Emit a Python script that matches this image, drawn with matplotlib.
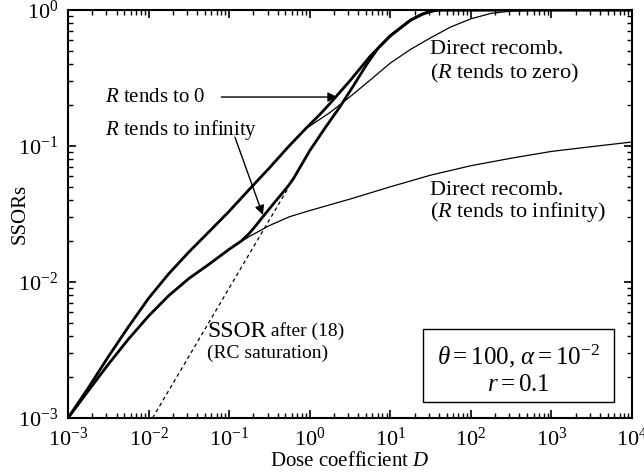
import matplotlib
matplotlib.use("Agg")
import numpy as np
from matplotlib import pyplot as plt
from matplotlib.patches import Rectangle

plt.rcParams["font.family"] = ["Liberation Serif", "DejaVu Serif"]
plt.rcParams["mathtext.fontset"] = "custom"
plt.rcParams["mathtext.rm"] = "Liberation Serif"
plt.rcParams["mathtext.it"] = "Liberation Serif:italic"
plt.rcParams["mathtext.bf"] = "Liberation Serif:bold"

# direct recombination, R -> 0 (thin)
d_zero = [1e-3, 1.78e-3, 3.16e-3, 5.62e-3, 0.01, 0.0178, 0.0316, 0.0562, 0.1, 0.178,
          0.316, 0.537, 0.9, 1.0, 1.78, 3.16, 5.62, 10, 17.8, 31.6, 56.2, 100, 178,
          316, 562, 1e3, 1e4]
s_zero = [1e-3, 1.66e-3, 2.82e-3, 4.68e-3, 7.59e-3, 0.0115, 0.0166, 0.0234, 0.0331, 0.048,
          0.069, 0.098, 0.135, 0.140, 0.176, 0.230, 0.305, 0.407, 0.513, 0.624, 0.750, 0.861,
          0.944, 0.982, 0.995, 1.0, 1.0]

# direct recombination, R -> infinity (thin)
d_inf = [1e-3, 1.78e-3, 3.16e-3, 5.62e-3, 0.01, 0.0178, 0.0316, 0.0562, 0.1, 0.178,
         0.316, 0.562, 1.0, 3.16, 10, 31.6, 100, 316, 1e3, 3162, 1e4]
s_inf = [1e-3, 1.58e-3, 2.48e-3, 3.80e-3, 5.62e-3, 7.94e-3, 0.0106, 0.0135, 0.0174, 0.0216,
         0.0260, 0.0302, 0.0335, 0.0407, 0.0501, 0.0610, 0.0716, 0.0813, 0.0912, 0.0989, 0.107]

# full model, R -> 0 (thick)
d_a = [1e-3, 1.78e-3, 3.16e-3, 5.62e-3, 0.01, 0.0178, 0.0316, 0.0562, 0.1, 0.178,
       0.316, 0.537, 0.9, 1.33, 1.78, 3.16, 5.62, 10, 17.8, 25.1, 31.6, 39.8, 1e4]
s_a = [1e-3, 1.66e-3, 2.82e-3, 4.68e-3, 7.59e-3, 0.0115, 0.0166, 0.0234, 0.0331, 0.048,
       0.069, 0.098, 0.135, 0.170, 0.205, 0.302, 0.457, 0.646, 0.841, 0.933, 0.977, 1.0, 1.0]

# full model, R -> infinity (thick)
d_b = [1e-3, 1.78e-3, 3.16e-3, 5.62e-3, 0.01, 0.0178, 0.0316, 0.0562, 0.1, 0.141,
       0.178, 0.224, 0.26, 0.355, 0.45, 0.55, 0.631, 0.794, 1.0, 1.58, 2.37, 3.55, 5.1, 7.08,
       10, 17.8, 25.1, 31.6, 39.8, 1e4]
s_b = [1e-3, 1.58e-3, 2.48e-3, 3.80e-3, 5.62e-3, 7.94e-3, 0.0106, 0.0135, 0.0174, 0.0200,
       0.0228, 0.0268, 0.0300, 0.0376, 0.0445, 0.0515, 0.0578, 0.0730, 0.0923, 0.138, 0.194,
       0.282, 0.398, 0.525, 0.646, 0.841, 0.933, 0.977, 1.0, 1.0]

# SSOR after (18), RC saturation (dashed)
d_rc = [0.0112, 0.55]
s_rc = [1e-3, 0.05]

fig = plt.figure(figsize=(6.44, 4.75), dpi=100)
ax = fig.add_axes([0.1056, 0.12, 0.8758, 0.859])

ax.plot(d_zero, s_zero, color="black", lw=0.9)
ax.plot(d_inf, s_inf, color="black", lw=0.9)
ax.plot(d_rc, s_rc, color="black", lw=0.9, ls=(0, (3, 2.5)))
ax.plot(d_a, s_a, color="black", lw=2.0, solid_joinstyle="round")
ax.plot(d_b, s_b, color="black", lw=2.0, solid_joinstyle="round")

ax.set_xscale("log")
ax.set_yscale("log")
ax.set_xlim(1e-3, 1e4)
ax.set_ylim(1e-3, 1e0)

for side in ax.spines.values():
    side.set_linewidth(1.5)
ax.tick_params(which="both", direction="in", top=True, right=True, labelsize=16)
ax.tick_params(which="major", length=6, width=1.2)
ax.tick_params(which="minor", length=3.5, width=1.0)
ax.tick_params(axis="x", which="major", pad=7)
ax.tick_params(axis="y", which="major", pad=7)
ax.xaxis.set_major_locator(matplotlib.ticker.LogLocator(base=10, numticks=20))
ax.xaxis.set_minor_locator(matplotlib.ticker.LogLocator(base=10, subs=np.arange(2, 10), numticks=20))

ax.set_xlabel("Dose coefficient $D$", fontsize=15, labelpad=1)
ax.set_ylabel("SSORs", fontsize=15)
ax.yaxis.set_label_coords(-0.068, 0.5)

ax.text(2.9e-3, 0.229, "$R$ tends to 0", fontsize=15, va="center")
ax.annotate("", xy=(2.2, 0.229), xytext=(0.08, 0.229),
            arrowprops=dict(arrowstyle="-|>", color="black", lw=1.0,
                            mutation_scale=14, shrinkA=0, shrinkB=0))
ax.text(2.9e-3, 0.131, "$R$ tends to infinity", fontsize=15, va="center")
ax.annotate("", xy=(0.262, 0.0311), xytext=(0.118, 0.116),
            arrowprops=dict(arrowstyle="-|>", color="black", lw=1.0,
                            mutation_scale=14, shrinkA=0, shrinkB=0))

ax.text(31, 0.508, "Direct recomb.", fontsize=16, va="center")
ax.text(31, 0.344, "($R$ tends to zero)", fontsize=16, va="center")
ax.text(31, 0.0474, "Direct recomb.", fontsize=16, va="center")
ax.text(31, 0.0327, "($R$ tends to infinity)", fontsize=16, va="center")

ssor = ax.text(0.053, 4.29e-3, "SSOR", fontsize=17, va="center")
ax.annotate(" after (18)", xy=(1.0, 0.12), xycoords=ssor, fontsize=14, va="bottom")
ax.text(0.053, 3.0e-3, "(RC saturation)", fontsize=14, va="center")

ax.add_patch(Rectangle((0.629, 0.039), 0.339, 0.179, transform=ax.transAxes,
                       fill=False, edgecolor="black", lw=1.0))
ax.text(0.798, 0.150, r"$\theta = 100$, $\alpha = 10^{-2}$", fontsize=18,
        ha="center", va="center", transform=ax.transAxes)
ax.text(0.798, 0.081, r"$r = 0.1$", fontsize=18,
        ha="center", va="center", transform=ax.transAxes)

fig.savefig("out.png", dpi=100)
